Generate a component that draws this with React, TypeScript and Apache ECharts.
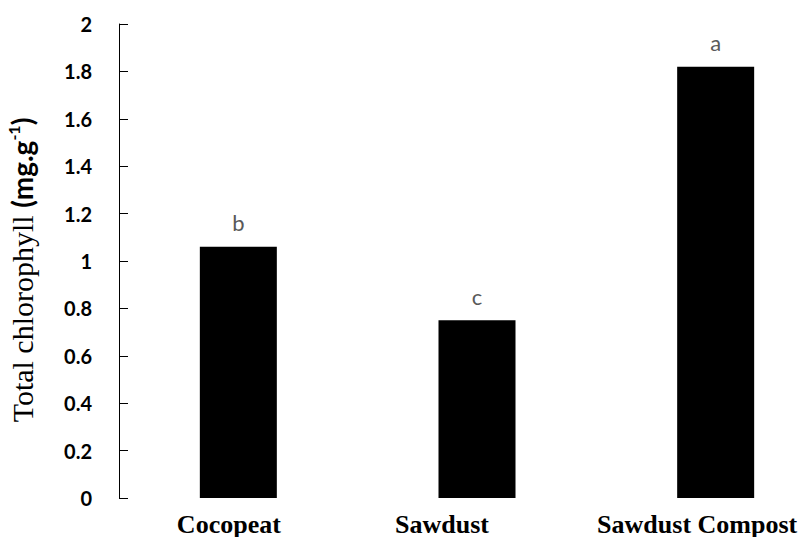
import React, { useEffect, useRef } from "react";
import * as echarts from "echarts";

const categories = ["Cocopeat", "Sawdust", "Sawdust Compost"];
const chlorophyll = [1.06, 0.75, 1.82];
const letters = ["b", "c", "a"];
const yTicks = { min: 0, max: 2, interval: 0.2 };

// leftward shift (px) of each category label relative to its bar, as in the reference
const labelShift = [9.5, 35, 18.5];

export default function App() {
  const ref = useRef<HTMLDivElement>(null);
  useEffect(() => {
    if (!ref.current) return;
    const chart = echarts.init(ref.current, null, { renderer: "svg" });
    chart.setOption({
      animation: false,
      backgroundColor: "#ffffff",
      grid: { left: 119, top: 24, width: 716, height: 474, outerBoundsMode: "none", containLabel: false },
      xAxis: {
        type: "category",
        data: categories.map((c, i) => ({
          value: c,
          textStyle: { padding: [0, labelShift[i] * 2, 0, 0] },
        })),
        axisLine: { show: false },
        axisTick: { show: false },
        axisLabel: {
          interval: 0,
          hideOverlap: false,
          margin: 13,
          color: "#000",
          fontFamily: "'Liberation Serif', 'Times New Roman', serif",
          fontWeight: "bold",
          fontSize: 26,
        },
      },
      yAxis: {
        type: "value",
        min: yTicks.min,
        max: yTicks.max,
        interval: yTicks.interval,
        splitLine: { show: false },
        axisLine: { show: true, lineStyle: { color: "#000", width: 1 } },
        axisTick: { show: true, inside: true, length: 9, lineStyle: { color: "#000", width: 1 } },
        axisLabel: {
          margin: 27,
          color: "#000",
          fontFamily: "Lato",
          fontWeight: "bold",
          fontSize: 20,
          formatter: (v: number) => String(Math.round(v * 10) / 10),
        },
        name: "{a|Total chlorophyll }{b|(mg.g}{c|-1}{e|)}",
        nameLocation: "middle",
        nameRotate: 90,
        nameGap: 80,
        nameTextStyle: {
          rich: {
            a: { fontFamily: "'Liberation Serif', serif", fontSize: 30, color: "#000", lineHeight: 34 },
            b: { fontFamily: "Lato", fontWeight: "bold", fontSize: 28, color: "#000", lineHeight: 34 },
            c: { fontFamily: "Lato", fontWeight: "bold", fontSize: 16, color: "#000", lineHeight: 18, verticalAlign: "top" },
            e: { fontFamily: "Lato", fontWeight: "bold", fontSize: 28, color: "#000", lineHeight: 34, padding: [0, 18, 0, 0] },
          },
        },
      },
      series: [
        {
          type: "bar",
          data: chlorophyll,
          barWidth: 77,
          itemStyle: { color: "#000" },
          label: {
            show: true,
            position: "top",
            distance: 13,
            color: "#595959",
            fontFamily: "Lato",
            fontSize: 22,
            formatter: (p: any) => letters[p.dataIndex],
          },
        },
      ],
    });
    return () => chart.dispose();
  }, []);
  return (
    <div
      ref={ref}
      style={{ position: "fixed", left: 0, top: 0, width: 802, height: 537, background: "#fff" }}
    />
  );
}
